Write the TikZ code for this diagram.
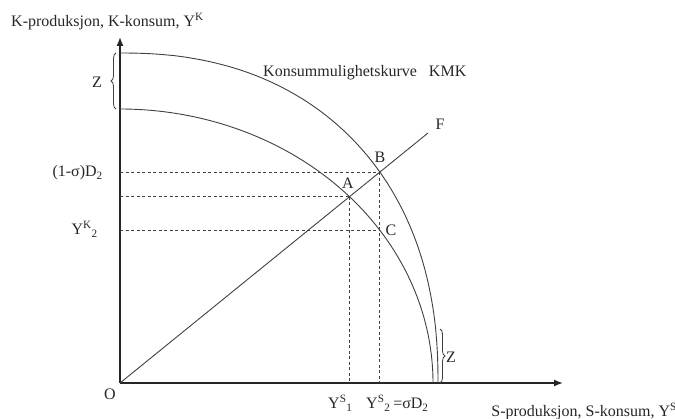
\documentclass[tikz,border=0pt]{standalone}
\usepackage{fontspec}
\setmainfont{Liberation Serif}
\usetikzlibrary{decorations.pathreplacing,intersections,arrows.meta}
\begin{document}
\begin{tikzpicture}[x=1pt,y=-1pt,
  lbl/.style={font=\fontsize{16}{19}\selectfont, text=black!85, inner sep=0pt},
  axis/.style={line width=1.4pt, draw=black!85, -{Latex[length=9pt,width=7pt]}},
  curve/.style={line width=0.9pt, draw=black!75},
  guide/.style={line width=0.8pt, draw=black!75, dash pattern=on 3pt off 2.5pt},
  bracestyle/.style={line width=0.8pt, draw=black!75, decorate, decoration={brace, amplitude=5pt}}]
\useasboundingbox (0,0) rectangle (675,419);
% key points
\coordinate (O) at (120,383);
\coordinate (ytip) at (120,37);
\coordinate (xtip) at (563,383);
\coordinate (Fend) at (428,133);
% axes
\draw[axis] (O) -- (ytip);
\draw[axis] (O) -- (xtip);
% curves
\draw[curve, name path=inner] plot[domain=0:90, samples=91] ({120+313*cos(\x)}, {383-274*sin(\x)});
\draw[curve, name path=outer] (438,383) -- plot[domain=0.05:89.95, samples=120] ({120+318*pow(cos(\x),0.889)}, {383-330*pow(sin(\x),0.889)}) -- (120,53);
% line OF
\draw[curve, name path=OF] (O) -- (Fend);
% intersections
\path[name intersections={of=OF and inner, by=A}];
\path[name intersections={of=OF and outer, by=B}];
\path[name path=vB] (B) -- (B |- O);
\path[name intersections={of=vB and inner, by=C}];
% dashed guides
\draw[guide] (B -| O) -- (B);
\draw[guide] (A -| O) -- (A);
\draw[guide] (C -| O) -- (C);
\draw[guide] (A) -- (A |- O);
\draw[guide] (B) -- (B |- O);
% braces
\coordinate (zl1) at (116,109);
\coordinate (zl2) at (116,53);
\draw[bracestyle] (zl1) -- (zl2);
\coordinate (zr1) at (440,329);
\coordinate (zr2) at (440,383);
\draw[bracestyle] (zr1) -- (zr2);
% labels
\node[lbl, anchor=base west] (ylab) at (11,27) {K-produksjon, K-konsum, Y\textsuperscript{K}};
\node[lbl, anchor=base east] (xlab) at (677,417) {S-produksjon, S-konsum, Y\textsuperscript{S}};
\node[lbl, anchor=base west] (kmk) at (263,77) {Konsummulighetskurve\hspace{12pt}KMK};
\node[lbl] (Olab) at (110,394) {O};
\node[lbl] (Alab) at (348,183) {A};
\node[lbl] (Blab) at (380,157) {B};
\node[lbl] (Clab) at (391,230) {C};
\node[lbl] (Flab) at (440,124) {F};
\node[lbl] (Zl) at (97,82) {Z};
\node[lbl] (Zr) at (451,357) {Z};
\node[lbl, anchor=base east] (D2lab) at (103,177) {(1-σ)D\textsubscript{2}};
\node[lbl, anchor=base east] (YK2) at (98,235) {Y\textsuperscript{K}\textsubscript{2}};
\node[lbl, anchor=base west] (YS1) at (328,409) {Y\textsuperscript{S}\textsubscript{1}};
\node[lbl, anchor=base west] (YS2) at (366,409) {Y\textsuperscript{S}\textsubscript{2}\,=σD\textsubscript{2}};
\end{tikzpicture}
\end{document}
